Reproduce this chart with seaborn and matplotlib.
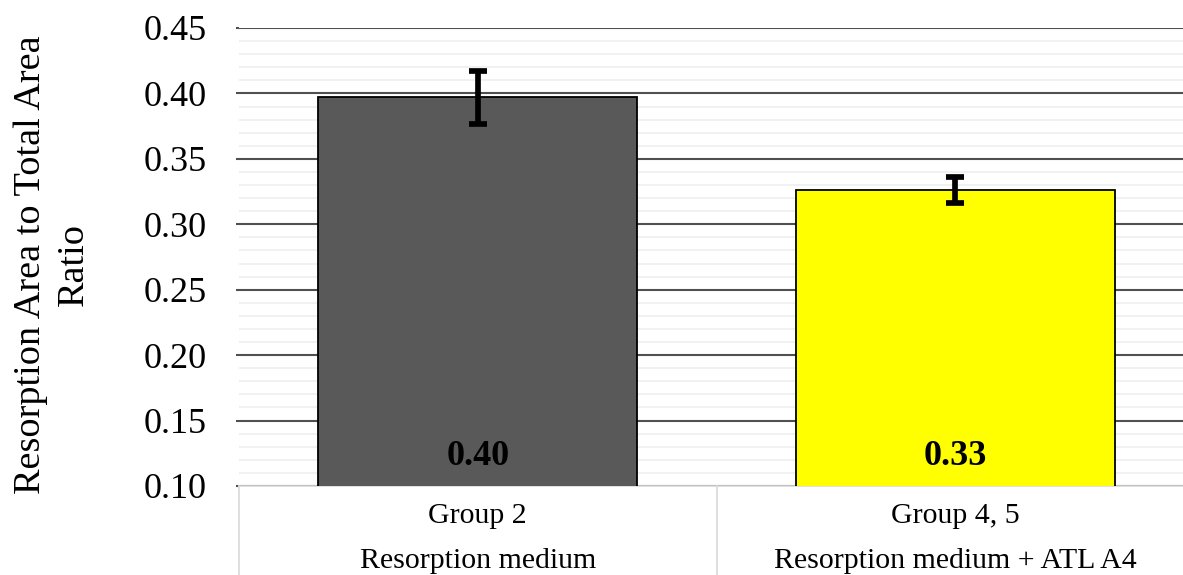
import matplotlib
matplotlib.use("Agg")
import matplotlib.pyplot as plt
import seaborn as sns
import numpy as np
import pandas as pd
from matplotlib.ticker import MultipleLocator, FixedLocator

# ---- data ----
groups = ["Group 2", "Group 4, 5"]
treatments = ["Resorption medium", "Resorption medium + ATL A4"]
ratio_means = [0.397, 0.326]
ratio_errors = [0.0205, 0.010]
value_labels = ["0.40", "0.33"]
bar_colors = ["#595959", "#FFFF00"]
y_ticks = [0.10, 0.15, 0.20, 0.25, 0.30, 0.35, 0.40, 0.45]
y_label = "Resorption Area to Total Area\nRatio"

sns.set_theme(style="white")
plt.rcParams["font.family"] = ["Liberation Serif", "DejaVu Serif"]
plt.rcParams["text.color"] = "black"
plt.rcParams["xtick.color"] = "black"
plt.rcParams["ytick.color"] = "black"
plt.rcParams["axes.labelcolor"] = "black"

df = pd.DataFrame({"group": groups, "ratio": ratio_means})

fig = plt.figure(figsize=(11.83, 5.75), dpi=100)
ax = fig.add_axes([239 / 1183, 89 / 575, 955 / 1183, 458 / 575])

sns.barplot(data=df, x="group", y="ratio", hue="group", palette=bar_colors,
            saturation=1, errorbar=None, width=0.668, edgecolor="black",
            linewidth=1.3, legend=False, ax=ax, zorder=3)

ax.errorbar(x=np.arange(len(groups)), y=ratio_means, yerr=ratio_errors,
            fmt="none", ecolor="black", elinewidth=4.1, capsize=6.5,
            capthick=4.1, zorder=4)

ax.set_xlim(-0.5, 1.5)
ax.set_ylim(0.10, 0.45)
ax.yaxis.set_major_locator(FixedLocator(y_ticks))
ax.yaxis.set_minor_locator(MultipleLocator(0.01))
ax.set_yticklabels([f"{t:.2f}" for t in y_ticks], fontsize=26, color="black")
ax.grid(which="major", axis="y", color="#505050", linewidth=1.5, zorder=1)
ax.grid(which="minor", axis="y", color="#f0f0f0", linewidth=1.3, zorder=0)
ax.set_axisbelow(True)
ax.tick_params(axis="y", which="major", length=2.5, width=1.5,
               color="#505050", pad=20.5, left=True)
ax.tick_params(axis="y", which="minor", length=0)
ax.tick_params(axis="x", length=0, labelbottom=False)
ax.set_xlabel("")
ax.set_ylabel("")

for s in ["top", "right", "left"]:
    ax.spines[s].set_visible(False)
ax.spines["bottom"].set_color("#d9d9d9")
ax.spines["bottom"].set_linewidth(1.2)

trans = ax.get_xaxis_transform()
# category separators
for xb in [-0.5, 0.5, 1.5]:
    ax.plot([xb, xb], [0, -0.25], transform=trans, color="#d9d9d9",
            linewidth=1.2, clip_on=False)

for i, (g, t) in enumerate(zip(groups, treatments)):
    ax.text(i, -0.0808, g, transform=trans, ha="center", va="baseline",
            fontsize=21.5, color="black")
    ax.text(i, -0.179, t, transform=trans, ha="center", va="baseline",
            fontsize=21.5, color="black")
    ax.text(i, 0.046, value_labels[i], transform=trans, ha="center",
            va="baseline", fontsize=26, fontweight="bold", color="black",
            zorder=5)

fig.text(52 / 1183, 1 - 265 / 575, y_label, rotation=90, ha="center",
         va="center", multialignment="center", fontsize=27.5,
         linespacing=1.3, color="black")

fig.savefig("out.png", dpi=100)
